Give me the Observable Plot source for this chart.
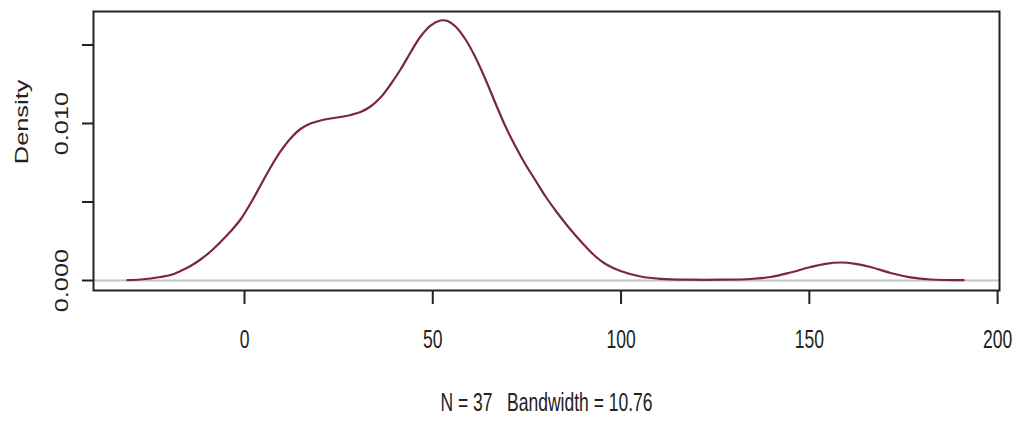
<!DOCTYPE html>
<html>
<head>
<meta charset="utf-8">
<script src="https://cdn.jsdelivr.net/npm/d3@7"></script>
<script src="https://cdn.jsdelivr.net/npm/@observablehq/plot@0.6"></script>
<style>
  html, body { margin: 0; padding: 0; background: #fff; }
  svg { font-family: "Liberation Sans", Arial, sans-serif; }
</style>
</head>
<body>
<div id="chart"></div>
<script>
// Density estimate
const densX = [-31.08, -27.62, -24.97, -22.31, -19.65, -16.99, -14.34, -11.68, -9.02, -6.37, -3.72, -1.06, 1.59, 4.25, 6.91, 9.56, 12.22, 14.87, 17.53, 20.19, 22.84, 25.50, 28.15, 30.81, 33.47, 36.12, 38.78, 41.43, 44.09, 46.75, 49.40, 52.06, 53.92, 56.04, 58.70, 61.35, 64.01, 66.67, 69.32, 71.98, 74.63, 77.29, 79.95, 82.60, 85.26, 87.92, 90.57, 93.23, 95.88, 99.87, 105.18, 110.49, 118.46, 126.43, 134.40, 139.71, 145.02, 150.33, 154.32, 158.30, 162.28, 166.27, 171.58, 176.89, 182.20, 190.97];
const densY = [0.000025, 0.000064, 0.000127, 0.000223, 0.00035, 0.000605, 0.000924, 0.001338, 0.001847, 0.002452, 0.003121, 0.003885, 0.004904, 0.006051, 0.007197, 0.008217, 0.009045, 0.00965, 0.01, 0.010191, 0.010318, 0.010414, 0.010541, 0.010732, 0.011083, 0.011656, 0.012484, 0.013439, 0.014522, 0.015541, 0.016242, 0.016561, 0.016529, 0.016178, 0.01535, 0.014204, 0.012803, 0.011274, 0.009809, 0.008535, 0.007389, 0.006369, 0.00535, 0.004459, 0.003631, 0.002866, 0.002166, 0.001529, 0.001051, 0.000605, 0.000255, 0.000108, 0.000051, 0.000051, 0.000096, 0.000223, 0.00051, 0.00086, 0.001064, 0.001146, 0.001064, 0.00086, 0.000478, 0.000204, 0.000064, 0.000019];

const xTicks = [0, 50, 100, 150, 200];
const xTickLabels = ["0", "50", "100", "150", "200"];
const yTicks = [0, 0.005, 0.010, 0.015];
const yTickLabels = ["0.000", "", "0.010", ""];
const yTitle = ["Density"];
const caption = ["N = 37   Bandwidth = 10.76"];

const data = densX.map((x, i) => ({x, y: densY[i]}));

const ink = "#222";
const fs = 17.5;

const plot = Plot.plot({
  width: 1020,
  height: 422,
  marginLeft: 93,
  marginRight: 21,
  marginTop: 11,
  marginBottom: 132,
  x: {domain: [-40.1, 200.5]},
  y: {domain: [-0.000637, 0.017134]},
  marks: [
    Plot.ruleY([0], {stroke: "#c4c4c4", strokeWidth: 2}),
    Plot.line(data, {x: "x", y: "y", stroke: "#7a2838", strokeWidth: 2.2, curve: "catmull-rom"}),
    Plot.frame({stroke: ink, strokeWidth: 2}),
    Plot.axisX({ticks: xTicks, tickSize: 14, tickFormat: () => "", label: null, stroke: ink, strokeWidth: 2}),
    Plot.axisY({ticks: yTicks, tickSize: 11, tickFormat: () => "", label: null, stroke: ink, strokeWidth: 2}),
    Plot.text(xTicks, {x: d => d, text: (d, i) => xTickLabels[i], frameAnchor: "bottom", dy: 49, fontSize: fs, lineAnchor: "middle", fill: ink}),
    Plot.text(yTicks, {y: d => d, text: (d, i) => yTickLabels[i], frameAnchor: "left", dx: -31, rotate: -90, fontSize: fs, lineAnchor: "middle", textAnchor: "middle", fill: ink}),
    Plot.text(yTitle, {text: d => d, frameAnchor: "left", dx: -71, rotate: -90, fontSize: fs, lineAnchor: "middle", fill: ink}),
    Plot.text(caption, {text: d => d, frameAnchor: "bottom", dy: 112, fontSize: fs, lineAnchor: "middle", fill: ink})
  ]
});

document.getElementById("chart").appendChild(plot);

// The reference is stretched vertically; stretch glyphs the same way about their centres
const ns = "http://www.w3.org/2000/svg";
Array.from(plot.querySelectorAll("text")).forEach(t => {
  if (!t.textContent.trim()) return;
  const parent = t.parentNode;
  const r = t.getBoundingClientRect();
  const pt = plot.createSVGPoint();
  pt.x = r.left + r.width / 2;
  pt.y = r.top + r.height / 2;
  const c = pt.matrixTransform(parent.getScreenCTM().inverse());
  const g = document.createElementNS(ns, "g");
  g.setAttribute("transform", `translate(${c.x},${c.y}) scale(1,1.45) translate(${-c.x},${-c.y})`);
  parent.insertBefore(g, t);
  g.appendChild(t);
});
</script>
</body>
</html>
